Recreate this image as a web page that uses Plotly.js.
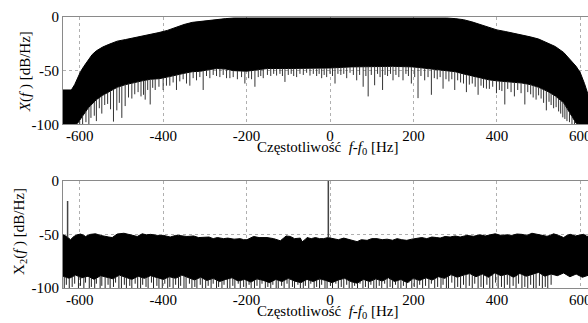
<!DOCTYPE html>
<html><head><meta charset="utf-8">
<script src="https://cdn.plot.ly/plotly-3.0.1.min.js"></script>
<style>html,body{margin:0;padding:0;overflow:hidden;background:#fff}</style>
</head><body><div id="chart"></div>
<script>
// ---- Top panel: X(f) spectrum envelope (dB/Hz) ----
const topF = [-640,-620,-612,-605,-598,-590,-580,-570,-560,-545,-530,-510,-490,-470,-450,-430,-410,-390,-370,-350,-330,-310,-290,-270,-250,-230,-200,-150,-100,-50,0,50,100,150,200,250,280,300,320,340,360,380,400,420,440,460,480,500,520,540,560,570,580,590,600,610,620,630,640];
const topUpper = [-68,-68,-63,-57,-51,-46,-40,-35,-31.5,-28,-25.5,-22.5,-21,-19.5,-18,-16.5,-14.5,-12.5,-9.5,-7,-5,-4,-3,-2,-1.5,-1,-1,-0.5,-0.5,-0.5,-0.5,-0.5,-0.5,-0.5,-0.5,-1,-1,-1.5,-2.5,-4.5,-7,-9.5,-12,-13.5,-15,-16.5,-18.5,-20.5,-24,-27.5,-33,-37,-42,-46,-52,-62,-74,-87,-100];
const topLower = [-100,-100,-100,-99,-95,-90,-85,-81,-77,-73,-70,-65.5,-63,-61,-59.5,-58,-57.5,-56,-54,-52.5,-51,-50.5,-49,-48,-48.5,-50,-50.5,-48,-48,-48,-47.5,-46.5,-46,-46,-46.5,-48.5,-50,-51,-53,-55,-57,-58.5,-59.5,-60,-60.5,-61.5,-63,-65.5,-69,-73.5,-80,-86,-93,-99,-100,-100,-100,-100,-100];
const topDipF = [-609,-600,-593,-585,-578,-573,-565,-560,-553,-547,-540,-533,-526,-519,-511,-505,-499,-491,-483,-475,-468,-460,-453,-447,-443,-437,-431,-425,-419,-410,-400,-392,-384,-376,-368,-360,-352,-344,-336,-328,-320,-312,-304,-296,-288,-280,-272,-264,-256,-248,-240,-232,-222,-212,-204,-195,-188,-180,-172,-166,-160,-150,-142,-135,-128,-120,-114,-108,-100,-93,-87,-80,-72,-64,-56,-48,-40,-32,-26,-20,-14,-8,0,6,12,19,26,33,40,48,56,64,71,79.5,86,91.5,99,107,114,120,126,132,138,145,151,158,165,175,182,188,195,203,211,218,227,235,243,250,257,264,271,278,285,292,299,306,313,320,327,334,341,348,355,362,368,375,382,390,399,406,412,419,426,434,442,450,458,467,474,481,487,494,500,506,512,518.6,525,530,536,542,548,553,558,563,568,574,580,586];
const topDipDb = [-100,-100,-100,-98,-100,-94,-92,-97,-85,-90,-82,-81,-86,-97.5,-87,-80,-94,-83,-75,-76,-72,-70,-74,-72.5,-77,-68,-81.5,-66,-68,-65,-68,-64,-64,-61,-68,-60,-58,-62,-64,-57,-59,-56,-68,-55,-57,-54,-55,-56,-54,-57,-57,-56,-58,-56,-62,-57,-58,-65,-56,-55,-57,-54,-55,-53,-54.6,-53,-55,-60.5,-54,-53,-55,-56,-53,-54,-52,-54.6,-53,-55,-53,-57,-54,-56,-53,-55,-62,-53,-54,-53,-57,-52,-54,-59,-54,-65,-55,-74,-54,-63.6,-53,-56,-68,-54,-55,-53,-59,-54,-56,-59,-53,-55,-62,-56,-75.6,-55,-59,-56,-72.5,-57,-58,-56,-66.8,-58,-60,-58,-68,-59,-61,-62,-70,-63,-62,-65,-72.5,-64,-66,-66.8,-67,-65,-71,-68,-69,-81.5,-67,-70,-74,-68,-71,-81.5,-70,-72,-75,-77,-73,-76,-80,-87,-79,-82,-85,-84,-88,-90,-93.5,-95,-97,-98,-100,-100];

// ---- Bottom panel: X2(f) spectrum envelope (dB/Hz) ----
const botUpF = [-640,-631,-622,-614,-606,-598,-590,-586,-574,-562,-550,-540,-530,-522,-510,-494,-478,-462,-450,-440,-430,-414,-399,-383,-370,-363,-343,-327,-315,-300,-290,-280,-270,-255,-245,-230,-215,-207,-199,-183,-170,-151,-135,-119,-105,-95,-85,-71,-67,-60,-55,-45,-35,-25,-15,-5,9,20,33,49,58,65,75,89,100,113,125,137,150,161,172,184,196,208,220,232,244,256,264,276,288,300,312,328,344,360,372,384,396,410,424,436,448,460,472,484,496,508,520,528,536,548,560,568,576,588,600,608,616,628,640];
const botUpper = [-50.5,-52,-55,-52,-50.5,-49.7,-51,-52,-50,-49.5,-51,-52,-52.5,-53,-49.7,-49,-50.5,-52,-49.5,-50.5,-50,-51,-51,-52.5,-51,-51,-52,-51.5,-53,-53,-52.5,-54,-53,-54,-53.5,-54.5,-54,-55,-55,-52,-53,-53,-54,-56,-51.5,-52,-54,-53.5,-57,-55,-53,-54,-53,-54,-54,-53,-54,-55,-53.5,-54.8,-56,-56.8,-55,-55.6,-54,-54,-55,-54.5,-55.5,-54,-55,-55.6,-54.5,-54,-53,-54,-52.5,-53,-53.5,-52,-52.5,-51.5,-52.5,-51,-51.8,-50.5,-51.5,-50.5,-49.5,-51,-50.5,-51,-49.7,-50,-51,-49,-49.7,-50.5,-51.8,-51,-49.5,-51,-53,-51,-50,-51.5,-51,-50,-52,-50.5,-51];
const botLowF = [-640,-625,-610,-595,-580,-565,-550,-535,-520,-505,-490,-475,-460,-445,-430,-415,-400,-385,-370,-355,-340,-325,-310,-295,-280,-265,-250,-235,-220,-205,-190,-175,-160,-145,-130,-115,-100,-85,-70,-55,-40,-25,-10,5,20,35,50,65,80,95,110,125,140,155,170,185,200,215,230,245,260,275,290,305,320,335,350,365,380,395,410,425,440,455,470,485,500,515,530,545,560,575,590,605,620,640];
const botLower = [-89,-91,-88,-90.5,-89,-92,-88.5,-90,-91.5,-88,-90,-92,-89,-91,-88.5,-90.5,-92,-89.5,-91,-88,-90,-92.5,-90,-93,-91,-94,-92,-90.5,-93.5,-92,-94.5,-91.5,-93,-95,-92,-94,-91,-93.5,-95,-92,-94,-91.5,-93,-95,-92.5,-91,-94,-95.5,-92,-94,-91.5,-93.5,-90.5,-94,-92,-95,-91,-93,-90.5,-92.5,-89.5,-91,-87.5,-90,-88,-86.5,-89.5,-87,-90,-86,-88.5,-87,-90,-86.5,-89,-87.5,-85.5,-89,-87,-88.5,-86,-89.5,-87,-90,-88,-89];
const botDipF = [-637,-632,-625,-618,-612,-603,-598,-590,-586,-577,-572,-564,-560,-551,-547,-539,-532,-527,-519,-514,-506,-500,-493,-488,-480,-475,-467,-461,-454,-449,-441,-436,-428,-423,-415,-410,-402,-396,-389,-384,-376,-370,-363,-358,-350,-345,-337,-331,-324,-319,-311,-306,-298,-292,-285,-280,-272,-267,-259,-254,-246,-240,-233,-228,-220,-215,-207,-201,-194,-189,-181,-175,-168,-163,-155,-149,-142,-137,-129,-124,-116,-110,-103,-98,-90,-85,-77,-71,-64,-59,-51,-46,-38,-32,-25,-20,-12,-7,1,6,14,20,27,33,40,46,53,59,66,72,79,85,92,98,105,111,118,124,131,137,144,150,157,163,170,176,183,189,196,202,209,215,222,229,237,243,251,258,266,271,279,284,292,299,306,313,320,326,334,341,347,355,362,368,376,383,390,397,403,411,418,425,431,439,446,452,460,467,474,481,488,494,502,509,516,522,530,537,543,551,558,565,572,579,586,593,600,607,614,621,628,635];
const botDipDb = [-100,-97,-100,-99,-96,-100,-98,-100,-95,-100,-99,-100,-96,-100,-98,-100,-97,-100,-99,-95,-100,-100,-97,-100,-98,-100,-96,-100,-100,-97,-99,-100,-95,-100,-98,-100,-100,-96,-100,-99,-100,-97,-100,-98,-100,-100,-96,-100,-99,-100,-97,-100,-100,-98,-100,-96,-100,-99,-100,-97,-100,-100,-98,-100,-96,-100,-99,-100,-97,-100,-100,-98,-100,-96,-100,-99,-100,-97,-100,-100,-98,-100,-96,-100,-99,-100,-97,-100,-100,-98,-100,-96,-100,-99,-100,-97,-100,-100,-98,-100,-96,-100,-99,-100,-97,-100,-100,-98,-100,-96,-100,-99,-100,-97,-100,-100,-98,-100,-96,-100,-99,-100,-97,-100,-100,-98,-100,-95,-100,-99,-100,-97,-100,-98,-100,-96,-100,-99,-100,-97,-100,-100,-95,-100,-99,-100,-97,-100,-98,-100,-96,-100,-99,-100,-97,-100,-100,-95,-100,-99,-100,-97,-100,-98,-100,-96,-100,-99,-100,-97,-100,-100,-98,-100,-99,-100,-97];
const botPeakF = [-629, -4];
const botPeakDb = [-19, 0];

// ---- Axis ticks ----
const xTickVals = [-600,-400,-200,0,200,400,600];
const xTickText = ['-600','-400','-200','0','200','400','600'];
const yTickVals = [-100,-50,0];
const yTickText = ['-100','-50','0'];

function interp(x, xs, ys){
  if (x <= xs[0]) return ys[0];
  for (let i = 1; i < xs.length; i++){
    if (x <= xs[i]) { const t = (x - xs[i-1])/(xs[i]-xs[i-1]); return ys[i-1] + t*(ys[i]-ys[i-1]); }
  }
  return ys[ys.length-1];
}
function segs(fs, ends, baseF, baseV){
  const x = [], y = [];
  fs.forEach((f,i)=>{ if (ends[i] === undefined) return; x.push(f,f,null); y.push(interp(f, baseF, baseV), ends[i], null); });
  return {x, y};
}

const td = segs(topDipF, topDipDb, topF, topLower);
const bd = segs(botDipF, botDipDb, botLowF, botLower);
const bp = segs(botPeakF, botPeakDb, botUpF, botUpper);

const blk = {color:'#000', width:1};
const traces = [
  {x: topF, y: topUpper, xaxis:'x', yaxis:'y', mode:'lines', line: blk, hoverinfo:'skip'},
  {x: topF, y: topLower, xaxis:'x', yaxis:'y', mode:'lines', line: blk, fill:'tonexty', fillcolor:'#000', hoverinfo:'skip'},
  {x: td.x, y: td.y, xaxis:'x', yaxis:'y', mode:'lines', line:{color:'#333', width:1}, hoverinfo:'skip', connectgaps:false},
  {x: botUpF, y: botUpper, xaxis:'x2', yaxis:'y2', mode:'lines', line: blk, hoverinfo:'skip'},
  {x: botLowF, y: botLower, xaxis:'x2', yaxis:'y2', mode:'lines', line: blk, fill:'tonexty', fillcolor:'#000', hoverinfo:'skip'},
  {x: bd.x, y: bd.y, xaxis:'x2', yaxis:'y2', mode:'lines', line:{color:'#222', width:1}, hoverinfo:'skip', connectgaps:false},
  {x: bp.x, y: bp.y, xaxis:'x2', yaxis:'y2', mode:'lines', line:{color:'#444', width:1.5}, hoverinfo:'skip', connectgaps:false}
];

const SERIF = '"Liberation Serif", "Times New Roman", Times, serif';
function xax(anchor){
  return {anchor, range:[-640,640], tickmode:'array', tickvals:xTickVals, ticktext:xTickText,
    showgrid:true, gridcolor:'#b0b0b0', griddash:'dot', gridwidth:1, zeroline:false,
    showline:true, linecolor:'#8a8a8a', linewidth:1, mirror:true, ticks:'', ticklabelstandoff:-2,
    tickfont:{family:SERIF, size:15, color:'#000'}, fixedrange:true};
}
function yax(anchor, domain){
  return {anchor, domain, range:[-100,0], tickmode:'array', tickvals:yTickVals, ticktext:yTickText,
    showgrid:true, gridcolor:'#b0b0b0', griddash:'dot', gridwidth:1, zeroline:false,
    showline:true, linecolor:'#8a8a8a', linewidth:1, mirror:true, ticks:'',
    tickfont:{family:SERIF, size:15, color:'#000'}, fixedrange:true};
}
const tf = {family:SERIF, size:15, color:'#000'};
const xlab = 'Częstotliwość\u00a0 <i>f</i>-<i>f</i><sub>0</sub> [Hz]';
const layout = {
  width:600, height:323, margin:{l:63, r:3, t:17, b:35},
  font:{family:SERIF, size:15, color:'#000'},
  paper_bgcolor:'#fff', plot_bgcolor:'#fff', showlegend:false,
  xaxis: xax('y'), yaxis: yax('x', [0.604, 1]),
  xaxis2: xax('y2'), yaxis2: yax('x2', [0, 0.396]),
  annotations:[
    {text: xlab, xref:'paper', yref:'paper', x:0.496, y:0.516, xanchor:'center', yanchor:'middle', showarrow:false, font:tf},
    {text: xlab, xref:'paper', yref:'paper', x:0.496, y:-0.09, xanchor:'center', yanchor:'middle', showarrow:false, font:tf},
    {text: '<i>X</i>(<i>f</i> ) [dB/Hz]', xref:'paper', yref:'paper', x:-0.0712, y:0.80, xanchor:'center', yanchor:'middle', textangle:-90, showarrow:false, font:tf},
    {text: 'X<sub>2</sub>(<i>f</i> ) [dB/Hz]', xref:'paper', yref:'paper', x:-0.0805, y:0.207, xanchor:'center', yanchor:'middle', textangle:-90, showarrow:false, font:tf}
  ]
};
Plotly.newPlot('chart', traces, layout, {staticPlot:true, displayModeBar:false});
</script></body></html>
